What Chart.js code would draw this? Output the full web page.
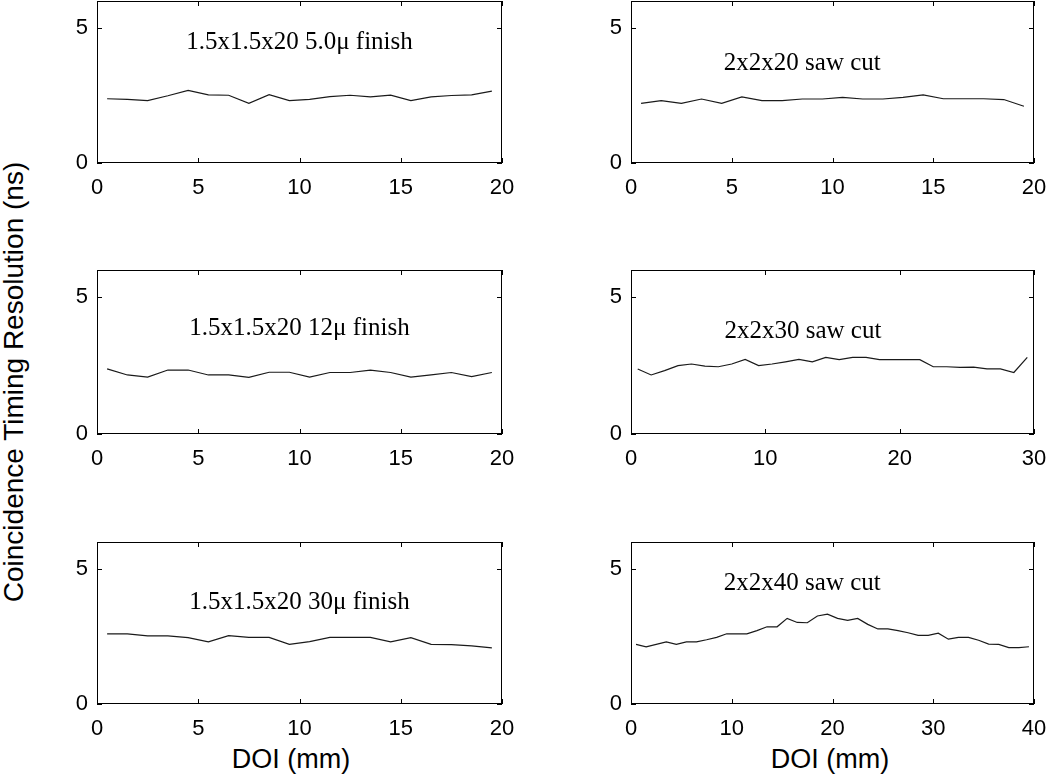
<!DOCTYPE html>
<html>
<head>
<meta charset="utf-8">
<title>Coincidence timing resolution vs DOI</title>
<script src="https://cdn.jsdelivr.net/npm/chart.js@4.4.1/dist/chart.umd.min.js"></script>
<style>
  body { margin: 0; background: #fff; width: 1050px; height: 778px; position: relative; overflow: hidden;
         font-family: "Liberation Sans", Arial, sans-serif; color: #000; }
  .panel { position: absolute; }
  .xlabel { position: absolute; width: 300px; text-align: center; font-size: 27px; line-height: 30px; }
  .ylabel { position: absolute; width: 560px; height: 34px; line-height: 34px; text-align: center;
            font-size: 28px; transform: rotate(-90deg); white-space: nowrap; }
</style>
</head>
<body>
<canvas id="c1" class="panel"></canvas>
<canvas id="c2" class="panel"></canvas>
<canvas id="c3" class="panel"></canvas>
<canvas id="c4" class="panel"></canvas>
<canvas id="c5" class="panel"></canvas>
<canvas id="c6" class="panel"></canvas>
<div class="ylabel" style="left:-266px; top:365px;">Coincidence Timing Resolution (ns)</div>
<div class="xlabel" style="left:141px; top:744px;">DOI (mm)</div>
<div class="xlabel" style="left:680px; top:744px;">DOI (mm)</div>
<script>
// DOI positions (mm), bin centres
const doi20 = [0.5, 1.5, 2.5, 3.5, 4.5, 5.5, 6.5, 7.5, 8.5, 9.5,
               10.5, 11.5, 12.5, 13.5, 14.5, 15.5, 16.5, 17.5, 18.5, 19.5];
const doi30 = [0.5, 1.5, 2.5, 3.5, 4.5, 5.5, 6.5, 7.5, 8.5, 9.5,
               10.5, 11.5, 12.5, 13.5, 14.5, 15.5, 16.5, 17.5, 18.5, 19.5,
               20.5, 21.5, 22.5, 23.5, 24.5, 25.5, 26.5, 27.5, 28.5, 29.5];
const doi40 = [0.5, 1.5, 2.5, 3.5, 4.5, 5.5, 6.5, 7.5, 8.5, 9.5,
               10.5, 11.5, 12.5, 13.5, 14.5, 15.5, 16.5, 17.5, 18.5, 19.5,
               20.5, 21.5, 22.5, 23.5, 24.5, 25.5, 26.5, 27.5, 28.5, 29.5,
               30.5, 31.5, 32.5, 33.5, 34.5, 35.5, 36.5, 37.5, 38.5, 39.5];

// timing resolution (ns)
const finish5 = [2.38, 2.36, 2.31, 2.49, 2.69, 2.52, 2.51, 2.21, 2.53, 2.31,
                 2.36, 2.46, 2.51, 2.45, 2.51, 2.31, 2.45, 2.50, 2.52, 2.66];
const finish12 = [2.38, 2.16, 2.08, 2.34, 2.34, 2.16, 2.16, 2.07, 2.26, 2.26,
                  2.08, 2.25, 2.25, 2.34, 2.25, 2.08, 2.16, 2.25, 2.10, 2.25];
const finish30 = [2.60, 2.60, 2.52, 2.52, 2.46, 2.30, 2.53, 2.47, 2.47, 2.21,
                  2.31, 2.47, 2.47, 2.47, 2.30, 2.46, 2.21, 2.20, 2.15, 2.08];
const saw20 = [2.21, 2.31, 2.21, 2.37, 2.21, 2.45, 2.31, 2.31, 2.37, 2.37,
               2.43, 2.37, 2.37, 2.43, 2.52, 2.38, 2.38, 2.38, 2.35, 2.10];
const saw30 = [2.38, 2.16, 2.32, 2.50, 2.56, 2.48, 2.46, 2.56, 2.73, 2.50,
               2.56, 2.64, 2.73, 2.64, 2.80, 2.72, 2.80, 2.80, 2.72, 2.72,
               2.72, 2.72, 2.46, 2.46, 2.44, 2.45, 2.38, 2.38, 2.25, 2.80];
const saw40 = [2.21, 2.12, 2.21, 2.30, 2.21, 2.30, 2.30, 2.38, 2.47, 2.60,
               2.60, 2.60, 2.72, 2.86, 2.86, 3.17, 3.02, 3.01, 3.26, 3.33,
               3.17, 3.10, 3.17, 2.95, 2.78, 2.78, 2.72, 2.64, 2.54, 2.54,
               2.62, 2.40, 2.47, 2.47, 2.36, 2.22, 2.21, 2.09, 2.09, 2.12];

const yLabelled = [0, 5];

// panel boxes in page pixels
const panels = [
  { id: 'c1', x: doi20, y: finish5,  xmax: 20, step: 5,  title: '1.5x1.5x20 5.0\u03bc finish', tx: 10,   ty: 4.48, left: 97,  top: 1,   w: 405, h: 162 },
  { id: 'c2', x: doi20, y: saw20,    xmax: 20, step: 5,  title: '2x2x20 saw cut',              tx: 8.5,  ty: 3.7,  left: 631, top: 1,   w: 403, h: 162 },
  { id: 'c3', x: doi20, y: finish12, xmax: 20, step: 5,  title: '1.5x1.5x20 12\u03bc finish',  tx: 10,   ty: 3.87, left: 97,  top: 270, w: 405, h: 164 },
  { id: 'c4', x: doi30, y: saw30,    xmax: 30, step: 10, title: '2x2x30 saw cut',              tx: 12.8, ty: 3.76, left: 631, top: 270, w: 403, h: 164 },
  { id: 'c5', x: doi20, y: finish30, xmax: 20, step: 5,  title: '1.5x1.5x20 30\u03bc finish',  tx: 10,   ty: 3.77, left: 97,  top: 542, w: 405, h: 162 },
  { id: 'c6', x: doi40, y: saw40,    xmax: 40, step: 10, title: '2x2x40 saw cut',              tx: 17,   ty: 4.46, left: 631, top: 542, w: 403, h: 162 }
];

const AXIS_W = 46, AXIS_H = 40, PAD_R = 16;

// matlab-like box with inward ticks on all four sides, plus the panel caption
const boxPlugin = {
  id: 'box',
  afterDraw(chart, args, opts) {
    const { ctx, chartArea: a, scales } = chart;
    const t = 5;
    ctx.save();
    ctx.strokeStyle = '#000';
    ctx.lineWidth = 1;
    ctx.beginPath();
    scales.x.ticks.forEach(tk => {
      const px = Math.round(scales.x.getPixelForValue(tk.value)) + 0.5;
      ctx.moveTo(px, a.bottom); ctx.lineTo(px, a.bottom - t);
      ctx.moveTo(px, a.top); ctx.lineTo(px, a.top + t);
    });
    scales.y.ticks.forEach(tk => {
      const py = Math.round(scales.y.getPixelForValue(tk.value)) + 0.5;
      ctx.moveTo(a.left, py); ctx.lineTo(a.left + t, py);
      ctx.moveTo(a.right, py); ctx.lineTo(a.right - t, py);
    });
    ctx.stroke();
    ctx.strokeRect(Math.round(a.left) + 0.5, Math.round(a.top) + 0.5,
                   Math.round(a.right - a.left) - 1, Math.round(a.bottom - a.top) - 1);
    ctx.fillStyle = '#000';
    ctx.font = '25px "Liberation Serif", "Times New Roman", serif';
    ctx.textAlign = 'center';
    ctx.textBaseline = 'middle';
    ctx.fillText(opts.text, scales.x.getPixelForValue(opts.x), scales.y.getPixelForValue(opts.y));
    ctx.restore();
  }
};

panels.forEach(p => {
  const canvas = document.getElementById(p.id);
  const padT = Math.min(p.top, 10);
  canvas.style.left = (p.left - AXIS_W) + 'px';
  canvas.style.top = (p.top - padT) + 'px';
  canvas.width = p.w + AXIS_W + PAD_R;
  canvas.height = p.h + padT + AXIS_H;
  canvas.style.width = canvas.width + 'px';
  canvas.style.height = canvas.height + 'px';

  new Chart(canvas, {
    type: 'line',
    data: {
      datasets: [{
        data: p.x.map((v, i) => ({ x: v, y: p.y[i] })),
        borderColor: '#1a1a1a',
        borderWidth: 1.2,
        pointRadius: 0,
        tension: 0,
        fill: false
      }]
    },
    options: {
      responsive: false,
      animation: false,
      events: [],
      layout: { padding: { top: padT, right: PAD_R, left: 0, bottom: 0 } },
      plugins: {
        legend: { display: false },
        tooltip: { enabled: false },
        box: { text: p.title, x: p.tx, y: p.ty }
      },
      scales: {
        x: {
          type: 'linear', min: 0, max: p.xmax,
          grid: { display: false, drawTicks: false },
          border: { display: false },
          ticks: { stepSize: p.step, padding: 12, maxRotation: 0, color: '#000',
                   font: { family: '"Liberation Sans", Arial, sans-serif', size: 22 } },
          afterFit(scale) {
            scale.height = AXIS_H;
            scale.paddingLeft = 0;
            scale.paddingRight = 0;
          }
        },
        y: {
          min: 0, max: 6,
          grid: { display: false, drawTicks: false },
          border: { display: false },
          ticks: { stepSize: 1, padding: 9, color: '#000',
                   font: { family: '"Liberation Sans", Arial, sans-serif', size: 22 },
                   callback: v => (yLabelled.includes(v) ? String(v) : null) },
          afterFit(scale) {
            scale.width = AXIS_W;
            scale.paddingTop = 0;
            scale.paddingBottom = 0;
          }
        }
      }
    },
    plugins: [boxPlugin]
  });
});
</script>
</body>
</html>
